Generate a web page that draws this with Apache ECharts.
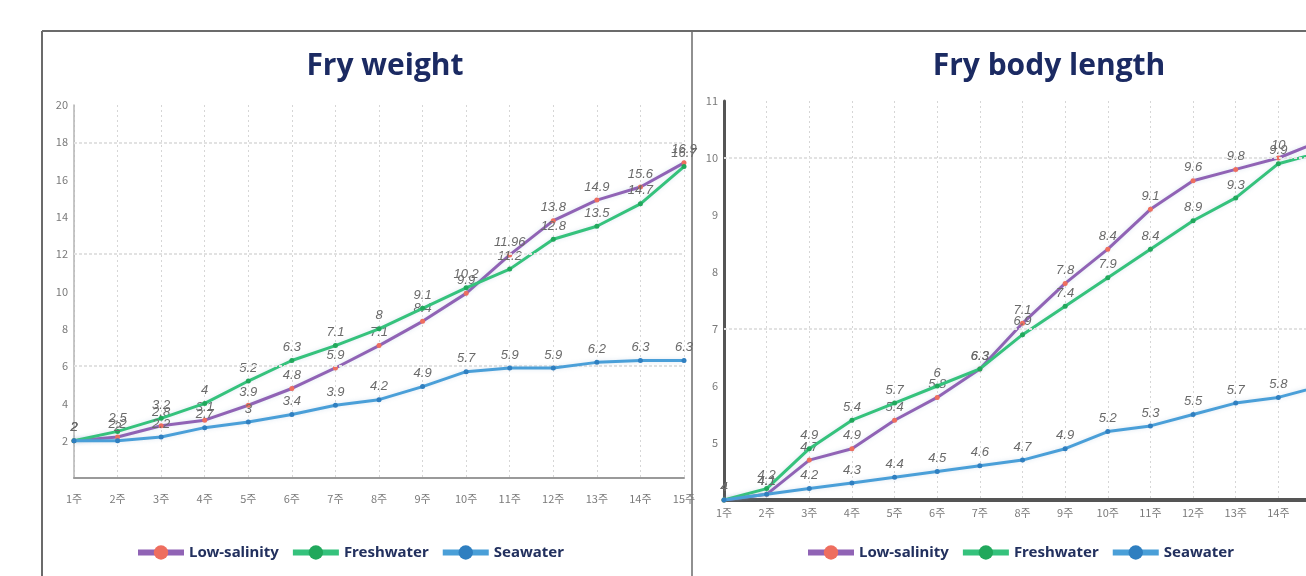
<!DOCTYPE html>
<html>
<head>
<meta charset="utf-8">
<script src="https://cdn.jsdelivr.net/npm/echarts@6/dist/echarts.min.js"></script>
<style>
  html, body { margin: 0; padding: 0; background: #fff; }
  #chart { width: 1306px; height: 576px; }
</style>
</head>
<body>
<div id="chart"></div>
<script>
// Weeks of rearing (x axis)
const weeks = ['1주','2주','3주','4주','5주','6주','7주','8주','9주','10주','11주','12주','13주','14주','15주'];
const seriesNames = ['Low-salinity', 'Freshwater', 'Seawater'];

// Fry weight
const weightLowSalinity = [2, 2.2, 2.8, 3.1, 3.9, 4.8, 5.9, 7.1, 8.4, 9.9, 11.96, 13.8, 14.9, 15.6, 16.9];
const weightFreshwater  = [2, 2.5, 3.2, 4, 5.2, 6.3, 7.1, 8, 9.1, 10.2, 11.2, 12.8, 13.5, 14.7, 16.7];
const weightSeawater    = [2, 2.0, 2.2, 2.7, 3, 3.4, 3.9, 4.2, 4.9, 5.7, 5.9, 5.9, 6.2, 6.3, 6.3];

// Fry body length
const lengthLowSalinity = [4, 4.1, 4.7, 4.9, 5.4, 5.8, 6.3, 7.1, 7.8, 8.4, 9.1, 9.6, 9.8, 10, 10.3];
const lengthFreshwater  = [4, 4.2, 4.9, 5.4, 5.7, 6, 6.3, 6.9, 7.4, 7.9, 8.4, 8.9, 9.3, 9.9, 10.1];
const lengthSeawater    = [4, 4.1, 4.2, 4.3, 4.4, 4.5, 4.6, 4.7, 4.9, 5.2, 5.3, 5.5, 5.7, 5.8, 6.0];

// Emphasised horizontal reference levels
const weightGridLevels = [6, 12, 18];
const lengthGridLevels = [7, 10];

const lineColors = ['#9063b5', '#35c27c', '#4a9fd8'];
const dotColors  = ['#ee6e5f', '#21a85c', '#2f7fc0'];

const labelStyle = {
  show: true, position: 'top', distance: 4,
  color: '#6a6a6a', fontSize: 13,
  fontFamily: '"Liberation Sans Narrow", "Liberation Sans", sans-serif',
  fontStyle: 'italic'
};

function makeSeries(idx, values, i, gridLevels) {
  const s = {
    name: seriesNames[i],
    type: 'line',
    xAxisIndex: idx, yAxisIndex: idx,
    data: values,
    symbol: 'circle', symbolSize: 5,
    showSymbol: true,
    lineStyle: { color: lineColors[i], width: 3, shadowColor: 'rgba(120,160,200,0.25)', shadowBlur: 4 },
    itemStyle: { color: dotColors[i] },
    label: labelStyle,
    emphasis: { disabled: true },
    z: 3 + i
  };
  if (i === 2) {
    s.markLine = {
      silent: true, symbol: 'none', animation: false,
      label: { show: false },
      lineStyle: { color: '#e2e2e2', width: 2, type: [3, 2] },
      data: gridLevels.map(v => ({ yAxis: v }))
    };
  }
  return s;
}

const axisFont = { color: '#7a7a7a', fontSize: 11, fontFamily: '"Liberation Sans Narrow", "Noto Sans CJK KR", sans-serif' };
const titleFont = { color: '#1b2a62', fontSize: 30, fontWeight: 'bold', fontFamily: '"Open Sans", "Noto Sans", sans-serif' };

const chart = echarts.init(document.getElementById('chart'), null, { renderer: 'canvas' });
chart.setOption({
  animation: false,
  backgroundColor: '#ffffff',
  title: [
    { text: 'Fry weight', left: 380, top: 46, textAlign: 'center', textStyle: titleFont },
    { text: 'Fry body length', left: 1044, top: 46, textAlign: 'center', textStyle: titleFont }
  ],
  legend: [130, 800].map(x => ({
    data: seriesNames,
    left: x,
    top: 540,
    orient: 'horizontal',
    itemWidth: 46, itemHeight: 18, itemGap: 11,
    lineStyle: { width: 6 },
    selectedMode: false,
    textStyle: { color: '#22305e', fontSize: 15, fontWeight: 'bold', fontFamily: '"Noto Sans", sans-serif' }
  })),
  grid: [
    { left: 74, top: 105, width: 610, bottom: 98, outerBoundsMode: 'none' },
    { left: 724, top: 101, width: 597, bottom: 76, outerBoundsMode: 'none' }
  ],
  xAxis: [0, 1].map(k => ({
    type: 'category', gridIndex: k, data: weeks, boundaryGap: false,
    axisLine: { lineStyle: { color: k === 0 ? '#9a9a9a' : '#555555', width: k === 0 ? 2 : 4 } },
    axisTick: { show: false },
    axisLabel: Object.assign({ margin: k === 0 ? 15 : 7 }, axisFont),
    splitLine: { show: true, lineStyle: { color: '#d6d6d6', width: 1, type: [2, 3] } }
  })),
  yAxis: [
    { type: 'value', gridIndex: 0, min: 0, max: 20, interval: 2,
      axisLine: { show: true, lineStyle: { color: '#b5b5b5', width: 1.5 } },
      axisTick: { show: false },
      axisLabel: Object.assign({ showMinLabel: false, margin: 6 }, axisFont),
      splitLine: { show: false } },
    { type: 'value', gridIndex: 1, min: 4, max: 11, interval: 1,
      axisLine: { show: true, lineStyle: { color: '#555555', width: 3 } },
      axisTick: { show: false },
      axisLabel: Object.assign({ showMinLabel: false, margin: 6 }, axisFont),
      splitLine: { show: false } }
  ],
  graphic: [
    { type: 'line', shape: { x1: 42, y1: 31, x2: 1306, y2: 31 }, style: { stroke: '#6b6b6b', lineWidth: 2 }, silent: true },
    { type: 'line', shape: { x1: 42, y1: 31, x2: 42, y2: 576 }, style: { stroke: '#6b6b6b', lineWidth: 2 }, silent: true },
    { type: 'line', shape: { x1: 692, y1: 31, x2: 692, y2: 576 }, style: { stroke: '#6b6b6b', lineWidth: 1.5 }, silent: true }
  ],
  series: [
    makeSeries(0, weightLowSalinity, 0, weightGridLevels),
    makeSeries(0, weightFreshwater, 1, weightGridLevels),
    makeSeries(0, weightSeawater, 2, weightGridLevels),
    makeSeries(1, lengthLowSalinity, 0, lengthGridLevels),
    makeSeries(1, lengthFreshwater, 1, lengthGridLevels),
    makeSeries(1, lengthSeawater, 2, lengthGridLevels)
  ]
});
</script>
</body>
</html>
